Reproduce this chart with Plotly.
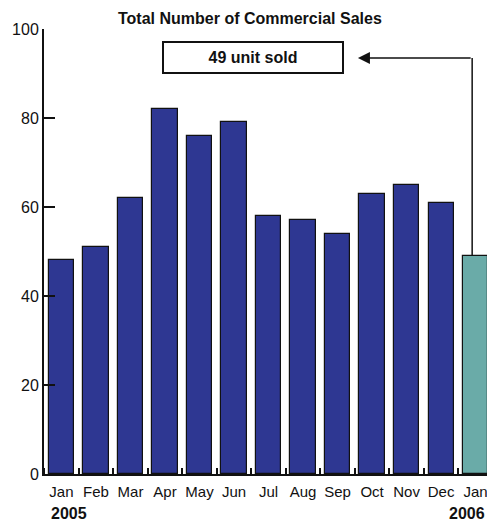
import plotly.graph_objects as go

months = ["Jan", "Feb", "Mar", "Apr", "May", "Jun", "Jul", "Aug", "Sep", "Oct", "Nov", "Dec", "Jan"]
sales = [48, 51, 62, 82, 76, 79, 58, 57, 54, 63, 65, 61, 49]
years = ["2005", "2006"]
blue = "#2E3792"
teal = "#6AABA8"
colors = [blue] * 12 + [teal]
xs = list(range(len(months)))

FONT = "Liberation Sans, Arial, sans-serif"

fig = go.Figure()
fig.add_trace(go.Bar(
    x=xs, y=sales, width=0.73,
    marker=dict(color=colors, line=dict(color="#111111", width=1.2)),
    showlegend=False, hoverinfo="skip"
))

fig.update_layout(
    width=487, height=521,
    margin=dict(l=44, r=0, t=29, b=47),
    plot_bgcolor="white", paper_bgcolor="white",
    font=dict(family=FONT, color="#111111"),
    bargap=0,
)
fig.update_xaxes(
    range=[-0.506, 12.33], automargin=False,
    tickmode="array", tickvals=xs, ticktext=months,
    ticks="", showgrid=False, zeroline=False,
    showline=True, linecolor="#111111", linewidth=2,
    tickfont=dict(size=15, family=FONT), ticklabelstandoff=3,
    ticklabeloverflow="allow",
    minor=dict(tick0=0.5, dtick=1, ticks="inside", ticklen=6, tickcolor="#111111", tickwidth=1.5, showgrid=False),
)
fig.update_yaxes(
    range=[0, 100], tickvals=[0, 20, 40, 60, 80, 100], automargin=False,
    ticks="inside", ticklen=11, tickwidth=2, tickcolor="#111111",
    showgrid=False, zeroline=False,
    showline=True, linecolor="#111111", linewidth=2,
    tickfont=dict(size=16, family=FONT),
)

# title
fig.add_annotation(x=0.465, xref="paper", y=1.0, yref="paper", yanchor="bottom",
                   text="<b>Total Number of Commercial Sales</b>", showarrow=False,
                   font=dict(size=16, family=FONT))
# box label
fig.add_annotation(x=5.55, xref="x", y=93.5, yref="y",
                   text="<b>%d unit sold</b>" % sales[-1], showarrow=False,
                   bordercolor="#111111", borderwidth=2, width=176, height=27,
                   bgcolor="white", font=dict(size=16, family=FONT))
# connector
fig.add_shape(type="line", x0=11.9, x1=11.9, y0=sales[-1], y1=93.5, xref="x", yref="y",
              line=dict(color="#111111", width=1.5))
fig.add_annotation(x=8.59, y=93.5, xref="x", yref="y", ax=11.9, ay=93.5, axref="x", ayref="y",
                   text="", showarrow=True, arrowhead=2, arrowsize=1.6, arrowwidth=1.5,
                   arrowcolor="#111111")
# years
fig.add_annotation(x=0, xref="x", xanchor="left", xshift=-12, y=-0.088, yref="paper", yanchor="middle",
                   text="<b>%s</b>" % years[0], showarrow=False, font=dict(size=16, family=FONT))
fig.add_annotation(x=12, xref="x", xanchor="right", xshift=11, y=-0.088, yref="paper", yanchor="middle",
                   text="<b>%s</b>" % years[1], showarrow=False, font=dict(size=16, family=FONT))

fig.write_html("out.html", config={"displayModeBar": False},
               post_script="document.body.style.margin='0';document.body.style.overflow='hidden';")
